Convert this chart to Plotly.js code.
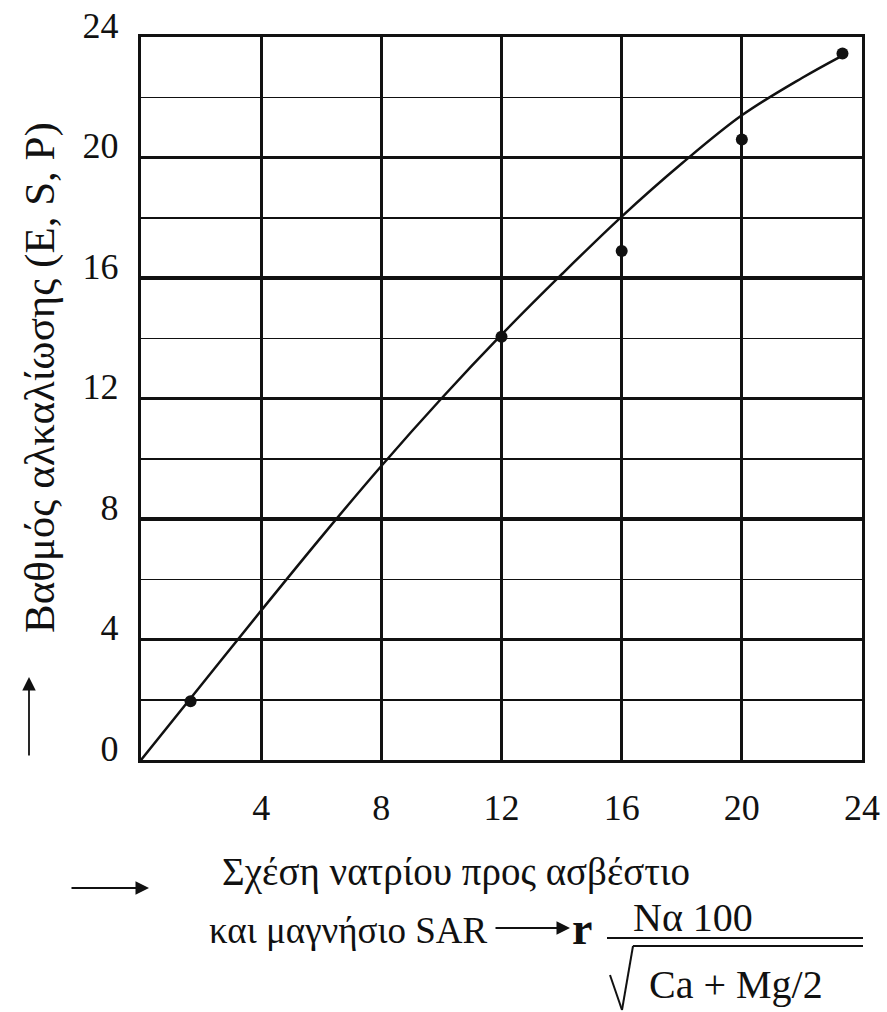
<!DOCTYPE html>
<html>
<head>
<meta charset="utf-8">
<script src="https://cdn.plot.ly/plotly-3.0.1.min.js"></script>
<style>
html,body{margin:0;padding:0;background:#ffffff;}
#chart{width:887px;height:1012px;}
</style>
</head>
<body>
<div id="chart"></div>
<script>
// Measured points (SAR vs degree of alkalization)
const sarPoints = [1.65, 12, 16, 20, 23.35];
const alkPoints = [1.95, 14.05, 16.9, 20.6, 23.45];
// Smooth fitted curve
const curveSar = [0, 2, 4, 6, 8, 10, 12, 14, 16, 18, 20, 22, 23.3];
const curveAlk = [0, 2.48, 4.96, 7.40, 9.76, 12.0, 14.12, 16.12, 18.04, 19.80, 21.40, 22.64, 23.36];
// Tick labels
const xTickVals = [4, 8, 12, 16, 20, 24];
const xTickText = ['4', '8', '12', '16', '20', '24'];
const yTickVals = [0, 4, 8, 12, 16, 20, 24];
const yTickText = ['0', '4', '8', '12', '16', '20', '24'];
// Texts
const yTitle = 'Βαθμός αλκαλίωσης (E, S, P)';
const xTitle1 = 'Σχέση νατρίου προς ασβέστιο';
const xTitle2 = 'και μαγνήσιο SAR';
const formulaR = 'r';
const formulaNum = 'Να 100';
const formulaDen = 'Ca + Mg/2';

const W = 887, H = 1012;
const L = 141, R = 25, T = 37, B = 252;
const PW = W - L - R, PH = H - T - B;
const px = x => (x - L) / PW;
const py = y => (H - B - y) / PH;

const FONT = '"Liberation Serif", "DejaVu Serif", serif';
const INK = '#111';

const traces = [
  {
    x: curveSar, y: curveAlk, type: 'scatter', mode: 'lines',
    line: {color: INK, width: 2.5, shape: 'spline', smoothing: 1},
    hoverinfo: 'skip', showlegend: false
  },
  {
    x: sarPoints, y: alkPoints, type: 'scatter', mode: 'markers',
    marker: {color: INK, size: 12},
    showlegend: false
  }
];

const ann = [];
const txt = (text, x, y, size, extra) => Object.assign({
  text: text, xref: 'paper', yref: 'paper', x: px(x), y: py(y),
  showarrow: false, font: {family: FONT, size: size, color: INK},
  xanchor: 'center', yanchor: 'middle'
}, extra || {});

ann.push(txt(yTitle, 40, 378, 43, {textangle: -90}));
ann.push(txt(xTitle1, 456, 872, 39));
ann.push(txt(xTitle2, 490, 930, 37, {xanchor: 'right'}));
ann.push(txt('<b>' + formulaR + '</b>', 582, 928, 46));
ann.push(txt(formulaNum, 693, 917, 40));
ann.push(txt(formulaDen, 736, 984, 40));

// arrows
const arrow = (x0, y0, x1, y1) => ({
  text: '', xref: 'paper', yref: 'paper', axref: 'pixel', ayref: 'pixel',
  x: px(x1), y: py(y1), ax: x0 - x1, ay: y0 - y1,
  showarrow: true, arrowhead: 2, arrowsize: 1.5, arrowwidth: 1.8, arrowcolor: INK
});
ann.push(arrow(29, 757, 29, 677));
ann.push(arrow(70, 888, 149, 888));
ann.push(arrow(494, 928, 570, 928));

const line = (x0, y0, x1, y1, w) => ({
  type: 'line', xref: 'paper', yref: 'paper',
  x0: px(x0), y0: py(y0), x1: px(x1), y1: py(y1),
  line: {color: INK, width: w}
});
const shapes = [
  line(607, 938, 863, 938, 2),
  line(633, 946, 863, 946, 2),
  line(633, 946, 622, 1010, 2),
  line(622, 1010, 610, 975, 2)
];

const layout = {
  width: W, height: H,
  margin: {l: L, r: R, t: T, b: B, pad: 0},
  paper_bgcolor: '#ffffff', plot_bgcolor: '#ffffff',
  showlegend: false,
  font: {family: FONT, color: INK},
  xaxis: {
    range: [0, 24], tickmode: 'array', tickvals: xTickVals, ticktext: xTickText,
    showgrid: true, gridcolor: INK, gridwidth: 3.2,
    showline: true, linecolor: INK, linewidth: 3.2, mirror: true,
    zeroline: false, ticks: '', ticklabelstandoff: 14,
    tickfont: {family: FONT, size: 36, color: INK}, fixedrange: true
  },
  yaxis: {
    range: [0, 24], tickmode: 'array', tickvals: yTickVals, ticktext: yTickText,
    showgrid: true, gridcolor: INK, gridwidth: 3.2,
    minor: {dtick: 2, showgrid: true, gridcolor: INK, gridwidth: 1.5, ticks: ''},
    showline: true, linecolor: INK, linewidth: 3.2, mirror: true,
    zeroline: false, ticks: '', ticklabelstandoff: 12, ticklabelshift: -12,
    tickfont: {family: FONT, size: 36, color: INK}, fixedrange: true
  },
  annotations: ann,
  shapes: shapes
};

Plotly.newPlot('chart', traces, layout, {displayModeBar: false, staticPlot: true});
</script>
</body>
</html>
